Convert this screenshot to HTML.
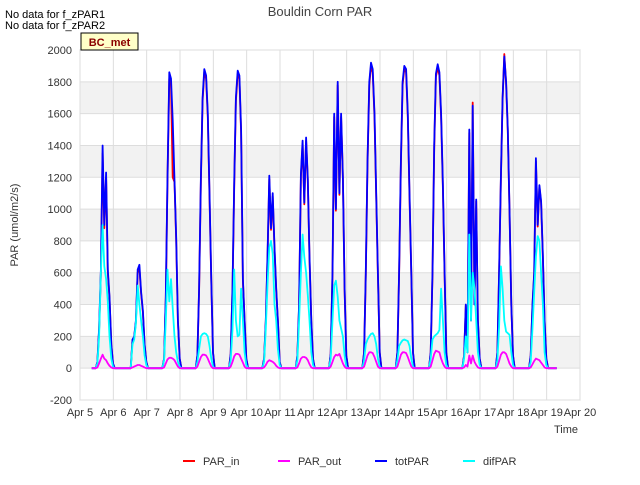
<!DOCTYPE html>
<html><head><meta charset="utf-8"><style>
body{margin:0;background:#fff;font-family:"Liberation Sans",sans-serif}
svg text{font-family:"Liberation Sans",sans-serif}
</style></head><body>
<svg id="chart" width="640" height="480" xmlns="http://www.w3.org/2000/svg">
<text x="5" y="18" font-size="11" fill="#000">No data for f_zPAR1</text>
<text x="5" y="29" font-size="11" fill="#000">No data for f_zPAR2</text>
<text x="320" y="16" font-size="13" fill="#444" text-anchor="middle">Bouldin Corn PAR</text>
<g id="plot"></g>
<rect x="81" y="33" width="57" height="17" fill="#ffffc8" stroke="#000" stroke-width="1"/>
<text x="109.5" y="46" font-size="11" font-weight="bold" fill="#8b0000" text-anchor="middle">BC_met</text>
<text transform="translate(18,225) rotate(-90)" font-size="11" fill="#333" text-anchor="middle">PAR (umol/m2/s)</text>
<text x="566" y="433" font-size="11" fill="#333" text-anchor="middle">Time</text>
<g>
<line x1="183" y1="461" x2="195" y2="461" stroke="#ff0000" stroke-width="2"/>
<text x="203" y="465" font-size="11" fill="#333">PAR_in</text>
<line x1="278" y1="461" x2="290" y2="461" stroke="#ff00ff" stroke-width="2"/>
<text x="298" y="465" font-size="11" fill="#333">PAR_out</text>
<line x1="375" y1="461" x2="387" y2="461" stroke="#0000ff" stroke-width="2"/>
<text x="395" y="465" font-size="11" fill="#333">totPAR</text>
<line x1="463" y1="461" x2="475" y2="461" stroke="#00ffff" stroke-width="2"/>
<text x="483" y="465" font-size="11" fill="#333">difPAR</text>
</g>
</svg>
<script>
const xTickLabels=["Apr 5","Apr 6","Apr 7","Apr 8","Apr 9","Apr 10","Apr 11","Apr 12","Apr 13","Apr 14","Apr 15","Apr 16","Apr 17","Apr 18","Apr 19","Apr 20"];
const yTicks=[-200,0,200,400,600,800,1000,1200,1400,1600,1800,2000];
const dayStartFrac=[0.47,0.522,0.574,0.626,0.678,0.73,0.782,0.834,0.886,0.938,0.99,1.042,1.094,1.146];
const totPAR=[
[0,40,250,620,1400,900,1230,620,450,150,30,0,0,0],
[0,0,180,200,300,620,650,480,360,150,40,0,0,0],
[0,60,450,1200,1860,1820,1560,1180,820,300,60,0,0,0],
[0,80,500,1200,1700,1880,1840,1600,1100,550,100,0,0,0],
[0,90,500,1160,1700,1870,1840,1500,560,300,60,0,0,0],
[0,60,300,700,1210,880,1100,760,500,300,40,0,0,0],
[0,80,400,1220,1430,1040,1450,1190,700,300,60,0,0,0],
[0,90,600,1600,1000,1800,1100,1600,1200,500,80,0,0,0],
[0,100,600,1300,1800,1920,1880,1600,1100,600,100,0,0,0],
[0,100,600,1300,1800,1900,1880,1600,1100,600,100,0,0,0],
[0,100,600,1400,1850,1910,1860,1600,1150,600,100,0,0,0],
[0,80,400,100,1500,300,1650,400,1060,300,60,0,0,0],
[0,100,600,1200,1700,1960,1800,1500,1000,400,80,0,0,0],
[0,80,400,600,1320,900,1150,1050,700,300,60,0,0,0]
];
const parIn=[
[0,40,240,600,1350,880,1200,600,440,150,30,0,0,0],
[0,0,175,195,290,600,630,470,350,145,40,0,0,0],
[0,60,440,1180,1820,1780,1200,1170,800,300,60,0,0,0],
[0,80,490,1180,1680,1860,1820,1580,1080,540,100,0,0,0],
[0,90,490,1140,1680,1850,1820,1480,550,300,60,0,0,0],
[0,60,295,690,1190,870,1080,750,490,295,40,0,0,0],
[0,80,395,1200,1410,1030,1430,1180,690,295,60,0,0,0],
[0,90,590,1580,990,1780,1090,1580,1190,495,80,0,0,0],
[0,100,590,1280,1780,1900,1860,1580,1080,590,100,0,0,0],
[0,100,590,1280,1780,1880,1860,1580,1080,590,100,0,0,0],
[0,100,590,1380,1830,1890,1840,1580,1130,590,100,0,0,0],
[0,80,395,100,1480,300,1670,400,1050,295,60,0,0,0],
[0,100,590,1190,1690,1975,1790,1490,990,395,80,0,0,0],
[0,80,395,590,1300,890,1140,1040,690,295,60,0,0,0]
];
const difPAR=[
[0,30,200,600,900,640,560,420,200,60,10,0,0,0],
[0,0,150,180,280,520,400,300,200,80,20,0,0,0],
[0,50,300,620,420,560,380,200,100,40,10,0,0,0],
[0,40,120,200,215,220,215,200,140,60,10,0,0,0],
[0,50,240,620,300,200,210,500,300,100,20,0,0,0],
[0,40,250,520,760,800,720,400,300,120,20,0,0,0],
[0,50,300,600,840,700,600,460,300,100,20,0,0,0],
[0,60,300,520,550,450,300,250,200,80,10,0,0,0],
[0,50,150,180,200,215,220,200,150,60,10,0,0,0],
[0,50,140,160,175,180,175,170,140,60,10,0,0,0],
[0,60,180,200,210,220,240,500,300,100,20,0,0,0],
[0,60,200,100,840,300,600,500,300,100,20,0,0,0],
[0,50,260,640,500,300,230,220,210,100,20,0,0,0],
[0,40,250,480,700,830,800,600,400,100,20,0,0,0]
];
const parOut=[
[0,5,30,60,85,60,50,30,15,5,0,0,0,0],
[0,0,5,10,15,20,20,15,10,5,0,0,0,0],
[0,5,30,55,65,65,60,50,30,10,0,0,0,0],
[0,10,40,70,85,85,80,60,35,10,0,0,0,0],
[0,10,40,75,90,90,85,60,35,10,0,0,0,0],
[0,5,20,40,50,45,40,30,15,5,0,0,0,0],
[0,5,30,60,70,70,65,50,25,5,0,0,0,0],
[0,10,40,70,85,80,90,60,30,10,0,0,0,0],
[0,10,45,80,100,100,95,70,40,10,0,0,0,0],
[0,10,45,85,100,100,95,70,40,10,0,0,0,0],
[0,10,50,90,110,105,100,60,30,10,0,0,0,0],
[0,5,20,10,80,30,80,40,20,5,0,0,0,0],
[0,10,45,85,100,100,90,60,30,10,0,0,0,0],
[0,5,25,45,60,55,50,35,20,5,0,0,0,0]
];
const NS="http://www.w3.org/2000/svg";
const L=80,R=580,T=50,B=400;
const xScale=d=>L+(d/15)*(R-L);
const yScale=v=>B-(v+200)/2200*(B-T);
const plot=document.getElementById('plot');
function mk(tag,attrs,parent){const e=document.createElementNS(NS,tag);for(const k in attrs)e.setAttribute(k,attrs[k]);(parent||plot).appendChild(e);return e;}
const bg=mk('rect',{x:L,y:T,width:R-L,height:B-T,fill:'#fff',stroke:'#ccc'});


const bands=[[1600,1800],[1200,1400],[800,1000],[400,600],[0,200]];
bands.forEach(b=>{const r=mk('rect',{x:L,y:yScale(b[1]),width:R-L,height:yScale(b[0])-yScale(b[1]),fill:'#f2f2f2'});

});
yTicks.forEach(v=>{const g=mk('line',{x1:L,x2:R,y1:yScale(v),y2:yScale(v),stroke:'#ddd','stroke-width':1});


const t=mk('text',{x:L-8,y:yScale(v)+4,'font-size':11,fill:'#333','text-anchor':'end'});t.textContent=v;

});
xTickLabels.forEach((s,i)=>{const g=mk('line',{x1:xScale(i),x2:xScale(i),y1:T,y2:B,stroke:'#ddd','stroke-width':1});


const t=mk('text',{x:xScale(i),y:B+16,'font-size':11,fill:'#333','text-anchor':'middle'});t.textContent=s;

});
function series(arr,color,name){
  let pts=[[0.35,0]];
  arr.forEach((day,d)=>{day.forEach((v,j)=>pts.push([d+dayStartFrac[j],v]));});
  pts.push([14.3,0]);
  const p=mk('polyline',{points:pts.map(q=>xScale(q[0]).toFixed(1)+','+yScale(q[1]).toFixed(1)).join(' '),fill:'none',stroke:color,'stroke-width':1.8,'stroke-linejoin':'round'});
  
  
}
series(parIn,'#ff0000','par-in-line');
series(totPAR,'#0000ff','totpar-line');
series(difPAR,'#00ffff','difpar-line');
series(parOut,'#ff00ff','par-out-line');
</script>
</body></html>
